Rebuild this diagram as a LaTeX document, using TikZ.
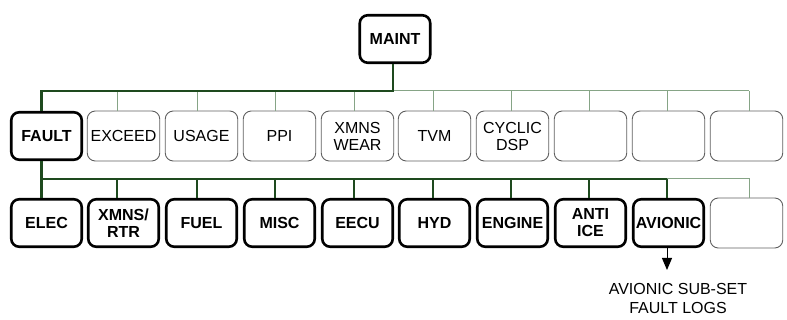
\documentclass[tikz,border=0pt]{standalone}
\usepackage{fontspec}
\setmainfont{Liberation Sans}
\usetikzlibrary{arrows.meta}
\definecolor{busdark}{HTML}{1E4A1E}
\definecolor{buslight}{HTML}{86A486}
\definecolor{thinbox}{HTML}{606060}
\tikzset{
  lbl/.style={font=\fontsize{16}{17}\selectfont, align=center, inner sep=0pt},
  thickbox/.style={lbl, draw=black, line width=2.6pt, rounded corners=8pt,
    minimum width=70.5pt, minimum height=47.5pt, font=\fontsize{16}{17}\selectfont\bfseries},
  thinbox/.style={lbl, draw=thinbox, line width=0.9pt, rounded corners=8pt,
    minimum width=72.5pt, minimum height=50pt},
  darkbus/.style={draw=busdark, line width=2.2pt},
  lightbus/.style={draw=buslight, line width=1pt},
}
\begin{document}
\begin{tikzpicture}[x=1pt,y=-1pt]
\useasboundingbox (0,0) rectangle (787,320);
% top
\node[thickbox] (maint) at (395,39) {MAINT};
% row 1
\node[thickbox] (r1c0) at (46.5,136) {FAULT};
\node[thinbox] (r1c1) at (123.5,136) {EXCEED};
\node[thinbox] (r1c2) at (201.5,136) {USAGE};
\node[thinbox] (r1c3) at (279.5,136) {PPI};
\node[thinbox] (r1c4) at (357.5,136) {XMNS\\WEAR};
\node[thinbox] (r1c5) at (434.5,136) {TVM};
\node[thinbox] (r1c6) at (512.5,136) {CYCLIC\\DSP};
\node[thinbox] (r1c7) at (590.5,136) {};
\node[thinbox] (r1c8) at (668.5,136) {};
\node[thinbox] (r1c9) at (746.5,136) {};
% row 2
\node[thickbox] (r2c0) at (46.5,223) {ELEC};
\node[thickbox] (r2c1) at (123.5,223) {XMNS/\\RTR};
\node[thickbox] (r2c2) at (201.5,223) {FUEL};
\node[thickbox] (r2c3) at (279.5,223) {MISC};
\node[thickbox] (r2c4) at (357.5,223) {EECU};
\node[thickbox] (r2c5) at (434.5,223) {HYD};
\node[thickbox] (r2c6) at (512.5,223) {ENGINE};
\node[thickbox] (r2c7) at (590.5,223) {ANTI\\ICE};
\node[thickbox] (r2c8) at (668.5,223) {AVIONIC};
\node[thinbox] (r2c9) at (746.5,223) {};
% bus coordinates
\coordinate (b1) at (393,91);
\coordinate (b1end) at (749,91);
\coordinate (b2) at (41.5,179);
\coordinate (b2mid) at (667,179);
\coordinate (b2end) at (749,179);
% row 1 light bus and drops
\draw[lightbus] (b1) -- (b1end);
\foreach \c/\x in {1/117,2/197,3/275,4/354,5/433,6/511,7/589,8/667,9/749}
  \draw[lightbus] (\x,91) -- (\x,0 |- r1c\c.north);
% row 1 dark path
\draw[darkbus] (maint.south -| b1) -- (b1) -- (41.5,91) -- (41.5,0 |- r1c0.north);
% row 2
\draw[lightbus] (b2mid) -- (b2end) -- (749,0 |- r2c9.north);
\draw[darkbus] (41.5,0 |- r1c0.south) -- (b2) -- (b2mid);
\foreach \c/\x in {0/41.5,1/117,2/197,3/275,4/354,5/433,6/511,7/589,8/667}
  \draw[darkbus] (\x,179) -- (\x,0 |- r2c\c.north);
% arrow
\node[lbl, font=\fontsize{16}{19}\selectfont] (note) at (678,298) {AVIONIC SUB-SET\\FAULT LOGS};
\coordinate (tip) at (667,270);
\draw[line width=1pt, -{Triangle[length=12pt,width=10pt]}] (667,0 |- r2c8.south) -- (tip);
\end{tikzpicture}
\end{document}
